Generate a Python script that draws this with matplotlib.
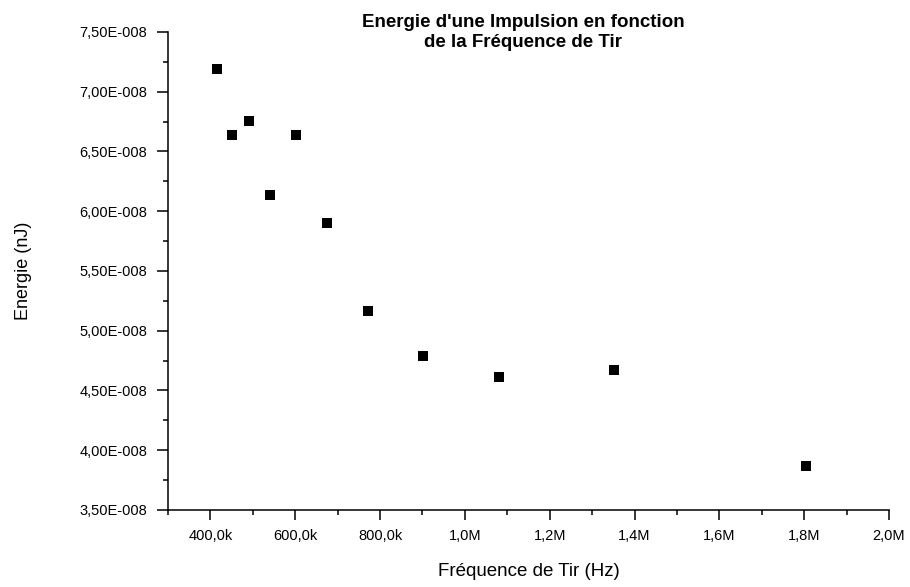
#!/usr/bin/env python
"""
energie d'une impulsion en fonction de la frequence de tir
"""

import matplotlib
matplotlib.use("Agg")
import matplotlib.pyplot as plt
from matplotlib.ticker import FuncFormatter, MultipleLocator

# data
frequence = [415e3, 451e3, 491e3, 540e3, 601e3, 676e3, 771e3, 902e3,
             1081e3, 1352e3, 1804e3]
energie = [7.19e-8, 6.64e-8, 6.755e-8, 6.14e-8, 6.64e-8, 5.90e-8, 5.165e-8,
           4.79e-8, 4.61e-8, 4.67e-8, 3.87e-8]

titre = "Energie d'une Impulsion en fonction\nde la Fréquence de Tir"
xlabel = "Fréquence de Tir (Hz)"
ylabel = "Energie (nJ)"

font_name = "Liberation Sans"
plt.rcParams['font.family'] = [font_name, 'DejaVu Sans']


def fmt_y(v, pos):
    # Origin style: 7,50E-008
    if v == 0:
        return "0"
    s = "%.2E" % v
    mant, exp = s.split("E")
    sign = "-" if exp[0] == "-" else ""
    return "%sE%s%03d" % (mant.replace(".", ","), sign, abs(int(exp)))


def fmt_x(v, pos):
    if v >= 1e6:
        return ("%.1fM" % (v / 1e6)).replace(".", ",")
    return ("%.1fk" % (v / 1e3)).replace(".", ",")


fig = plt.figure(figsize=(9.1, 5.87), dpi=100)
ax = fig.add_axes([0.1846, 0.1312, 0.7923, 0.8143])

ax.plot(frequence, energie, 's', color='black', ms=7.5, mew=0)

ax.set_xlim(3e5, 2e6)
ax.set_ylim(3.5e-8, 7.5e-8)
ax.xaxis.set_major_locator(MultipleLocator(2e5))
ax.xaxis.set_minor_locator(MultipleLocator(1e5))
ax.yaxis.set_major_locator(MultipleLocator(0.5e-8))
ax.yaxis.set_minor_locator(MultipleLocator(0.25e-8))
ax.xaxis.set_major_formatter(FuncFormatter(fmt_x))
ax.yaxis.set_major_formatter(FuncFormatter(fmt_y))

for side in ['top', 'right']:
    ax.spines[side].set_visible(False)
for side in ['left', 'bottom']:
    ax.spines[side].set_linewidth(1.1)

ax.tick_params(which='major', direction='out', length=7, width=1.1,
               labelsize=10.5, colors='black')
ax.tick_params(which='minor', direction='out', length=3.5, width=1.1)
ax.tick_params(axis='y', which='major', length=8, pad=7)
ax.tick_params(axis='x', which='major', pad=7)

ax.set_xlabel(xlabel, fontsize=13.5)
ax.set_ylabel(ylabel, fontsize=13)
ax.xaxis.set_label_coords(0.5, -0.111)
ax.yaxis.set_label_coords(-0.188, 0.5)

fig.text(0.575, 0.976, titre, ha='center', va='top', fontsize=13.5,
         fontweight='bold', linespacing=1.25)

plt.savefig("out.png", dpi=100)
